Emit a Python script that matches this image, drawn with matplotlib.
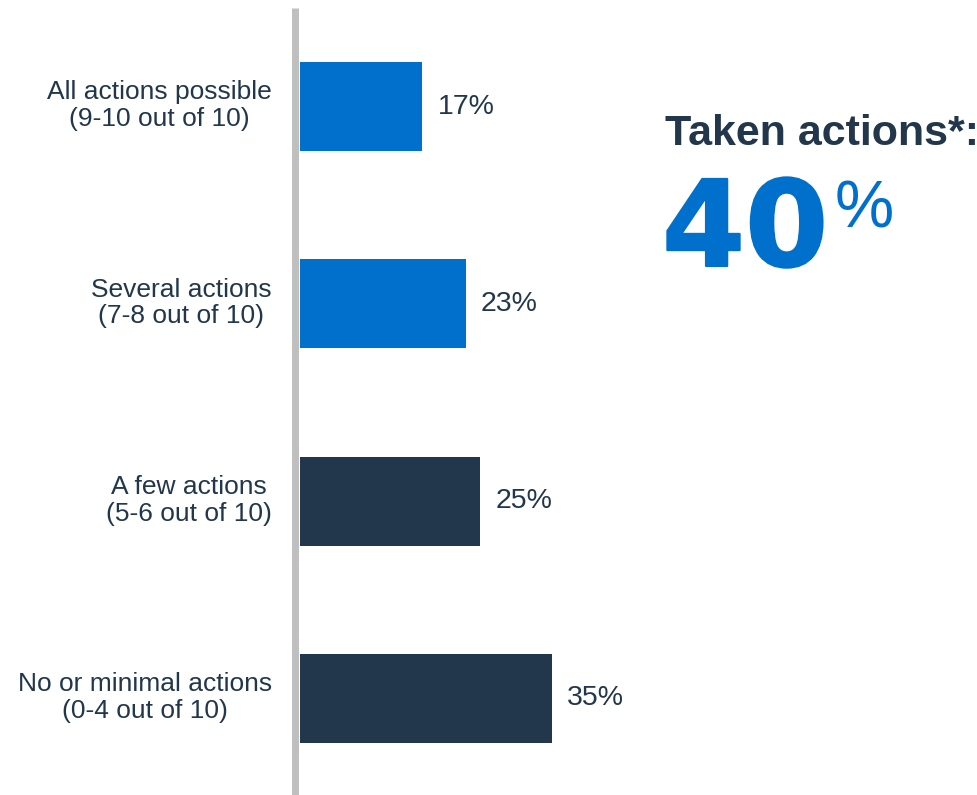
import matplotlib
matplotlib.use("Agg")
import matplotlib.pyplot as plt
import matplotlib.patheffects as pe
from matplotlib.transforms import ScaledTranslation

plt.rcParams['font.family'] = ['Liberation Sans', 'DejaVu Sans']

categories = ["All actions possible\n(9-10 out of 10)",
              "Several actions\n(7-8 out of 10)",
              "A few actions\n(5-6 out of 10)",
              "No or minimal actions\n(0-4 out of 10)"]
values = [17, 23, 25, 35]
value_labels = ["17%", "23%", "25%", "35%"]
headline_title = "Taken actions*:"
headline_value = "40"

BLUE = "#0070CD"
NAVY = "#22374B"
GREY = "#BFBFBF"
bar_colors = [BLUE, BLUE, NAVY, NAVY]

W, H = 978, 795
fig = plt.figure(figsize=(W / 100, H / 100), dpi=100)
ax_left, ax_top, ax_bottom = 300, 8, 797
ax = fig.add_axes([ax_left / W, (H - ax_bottom) / H, (W - ax_left) / W, (ax_bottom - ax_top) / H])

px_per_unit = 7.2
ax.set_xlim(0, (W - ax_left) / px_per_unit)
ax.set_ylim(len(categories) - 0.5, -0.5)

ypos = list(range(len(categories)))
ax.barh(ypos, values, height=0.45, color=bar_colors, zorder=2)

for y, v, lab in zip(ypos, values, value_labels):
    ax.annotate(lab, (v, y), xytext=(11, 0), textcoords="offset points",
                ha="left", va="center", fontsize=20.5, color=NAVY)

for s in ("top", "right", "bottom"):
    ax.spines[s].set_visible(False)
ax.spines["left"].set_color(GREY)
ax.spines["left"].set_linewidth(5)
ax.spines["left"].set_capstyle("butt")
ax.spines["left"].set_position(("outward", 3.3))
ax.set_xticks([])
ax.set_yticks(ypos)
ax.set_yticklabels(categories, fontsize=19, color=NAVY, multialignment="center",
                   linespacing=1.15)
ax.tick_params(axis="y", length=0, pad=17)
# nudge the category labels slightly upward
lift = ScaledTranslation(0, 3.5 / 72, fig.dpi_scale_trans)
for lbl in ax.get_yticklabels():
    lbl.set_transform(lbl.get_transform() + lift)

fig.text(665 / W, 1 - 145 / H, headline_title, fontsize=31, fontweight="bold",
         color=NAVY, ha="left", va="baseline")
big = fig.text(662 / W, 1 - 266 / H, headline_value, fontsize=86, fontweight="bold",
               family=["DejaVu Sans"], color=BLUE, ha="left", va="baseline")
big.set_path_effects([pe.withStroke(linewidth=1.5, foreground=BLUE)])
fig.text(835 / W, 1 - 227 / H, "%", fontsize=48, color=BLUE, ha="left", va="baseline")

fig.savefig("out.png", dpi=100)
